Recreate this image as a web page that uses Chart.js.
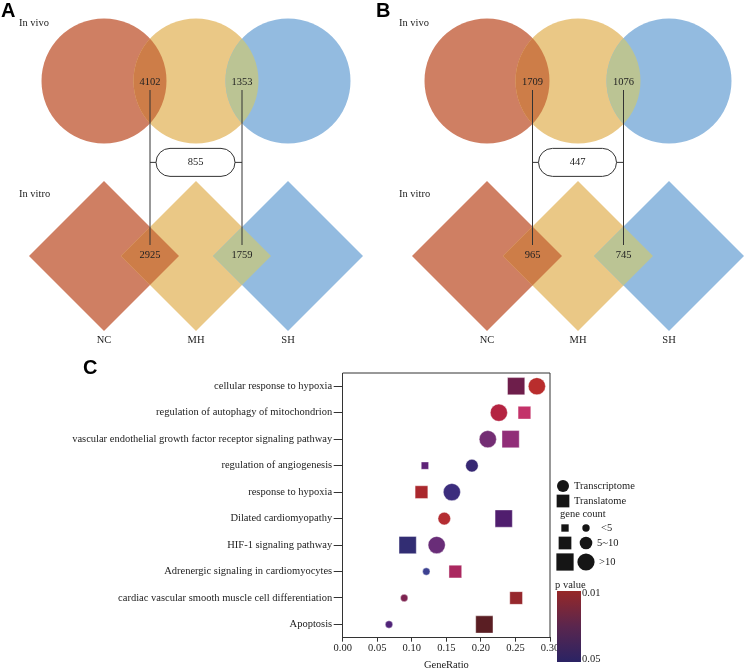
<!DOCTYPE html>
<html>
<head>
<meta charset="utf-8">
<title>Venn diagrams and enrichment dot plot</title>
<script src="https://cdn.jsdelivr.net/npm/chart.js@4.4.1/dist/chart.umd.min.js"></script>
<style>
  body { margin: 0; background: #fff; }
  .figure { position: relative; width: 744px; height: 670px; }
  canvas { position: absolute; }
  #vennA { left: 0; top: 0; }
  #vennB { left: 372px; top: 0; }
  #dotChart { left: 0; top: 350px; }
</style>
</head>
<body>
<div class="figure">
  <canvas id="vennA" width="372" height="352"></canvas>
  <canvas id="vennB" width="372" height="352"></canvas>
  <canvas id="dotChart" width="744" height="320"></canvas>
</div>
<script>
// Venn data (A and B)
const setNames = ['NC', 'MH', 'SH'];
const vivoA = [4102, 1353];
const vitroA = [2925, 1759];
const sharedA = 855;
const vivoB = [1709, 1076];
const vitroB = [965, 745];
const sharedB = 447;

// Enrichment dot plot (C)
const terms = [
    'cellular response to hypoxia',
    'regulation of autophagy of mitochondrion',
    'vascular endothelial growth factor receptor signaling pathway',
    'regulation of angiogenesis',
    'response to hypoxia',
    'Dilated cardiomyopathy',
    'HIF-1 signaling pathway',
    'Adrenergic signaling in cardiomyocytes',
    'cardiac vascular smooth muscle cell differentiation',
    'Apoptosis'
];
const transcriptomeRatio = [0.281, 0.226, 0.210, 0.187, 0.158, 0.147, 0.136, 0.121, 0.089, 0.067];
const transcriptomeCount = [12, 12, 12, 7, 12, 7, 12, 3, 3, 3];
const translatomeRatio = [0.251, 0.263, 0.243, 0.119, 0.114, 0.233, 0.094, 0.163, 0.251, 0.205];
const translatomeCount = [12, 7, 12, 3, 7, 12, 12, 7, 7, 12];
const xTicks = [0, 0.05, 0.10, 0.15, 0.20, 0.25, 0.30];
const pRange = ['0.01', '0.05'];

// styles
const serif = '"Liberation Serif", "Times New Roman", serif';
const sans = '"Liberation Sans", Arial, sans-serif';
const axisColor = '#333';
const setColors = ['#cf7f63', '#eac886', '#93bbe0'];
const overlapColors = ['#cd7d48', '#bbc494'];
const transcriptomeColors = ['#b92d2d', '#b42341', '#732d73', '#372873', '#3c2d7d', '#b42d32', '#692d78', '#3c4191', '#7d2350', '#502378'];
const translatomeColors = ['#6e1e4b', '#c33269', '#912d78', '#5f2378', '#aa282d', '#501e6e', '#322d73', '#aa285f', '#96282d', '#5a1e23'];

Chart.defaults.font.family = serif;
Chart.defaults.font.size = 10.5;
Chart.defaults.color = '#222';
Chart.defaults.animation = false;
Chart.defaults.events = [];

function shapePath(ctx, el) {
    const r = el.options.radius;
    ctx.beginPath();
    if (el.options.pointStyle === 'circle') {
        ctx.arc(el.x, el.y, r, 0, Math.PI * 2);
    } else {
        ctx.moveTo(el.x, el.y - r);
        ctx.lineTo(el.x + r, el.y);
        ctx.lineTo(el.x, el.y + r);
        ctx.lineTo(el.x - r, el.y);
        ctx.closePath();
    }
}

function vennPlugin(o) {
    return {
        id: 'vennExtras',
        afterDatasetsDraw(chart) {
            const ctx = chart.ctx;
            chart.data.datasets.forEach((ds, d) => {
                const pts = chart.getDatasetMeta(d).data;
                for (let i = 0; i < pts.length - 1; i++) {
                    ctx.save();
                    shapePath(ctx, pts[i]);
                    ctx.clip();
                    shapePath(ctx, pts[i + 1]);
                    ctx.fillStyle = overlapColors[i];
                    ctx.fill();
                    ctx.restore();
                }
            });
        },
        afterDraw(chart) {
            const ctx = chart.ctx;
            const xs = chart.scales.x, ys = chart.scales.y;
            const topY = ys.getPixelForValue(1);
            const botY = ys.getPixelForValue(0);
            const midY = ys.getPixelForValue(0.535);
            const px = [xs.getPixelForValue(0.5), xs.getPixelForValue(1.5)];
            ctx.save();
            ctx.strokeStyle = axisColor;
            ctx.lineWidth = 1;
            ctx.fillStyle = '#222';
            ctx.font = '10.5px ' + serif;
            ctx.textAlign = 'center';
            ctx.textBaseline = 'middle';
            px.forEach((x, i) => {
                ctx.fillText(o.vivo[i], x, topY + 1);
                ctx.fillText(o.vitro[i], x, botY - 1);
                ctx.beginPath();
                ctx.moveTo(x, topY + 9);
                ctx.lineTo(x, botY - 11);
                ctx.stroke();
            });
            // rounded box with the shared count
            const bl = px[0] + 6, br = px[1] - 7, h = 28;
            ctx.beginPath();
            ctx.moveTo(px[0], midY); ctx.lineTo(bl, midY);
            ctx.moveTo(br, midY); ctx.lineTo(px[1], midY);
            ctx.stroke();
            ctx.beginPath();
            ctx.roundRect(bl, midY - h / 2, br - bl, h, h / 2);
            ctx.fillStyle = '#fff';
            ctx.fill();
            ctx.stroke();
            ctx.fillStyle = '#222';
            ctx.fillText(o.shared, (bl + br) / 2, midY);

            ctx.textAlign = 'left';
            ctx.textBaseline = 'alphabetic';
            ctx.fillText('In vivo', o.labelX, 26);
            ctx.fillText('In vitro', o.labelX, 197);
            ctx.font = 'bold 20px ' + sans;
            ctx.fillStyle = '#000';
            ctx.fillText(o.letter, o.letterX, 17);
            ctx.restore();
        }
    };
}

function drawVenn(canvasId, o) {
    const left = o.x0 - o.step;
    const right = 372 - (left + 3.8 * o.step);
    return new Chart(document.getElementById(canvasId), {
        type: 'scatter',
        data: {
            datasets: [
                {
                    label: 'In vivo',
                    data: setNames.map((n, i) => ({ x: i, y: 1 })),
                    pointStyle: 'circle',
                    pointRadius: 62.5,
                    pointHoverRadius: 62.5,
                    pointBackgroundColor: setColors,
                    pointBorderWidth: 0,
                    clip: false
                },
                {
                    label: 'In vitro',
                    data: setNames.map((n, i) => ({ x: i, y: 0 })),
                    pointStyle: 'rectRot',
                    pointRadius: 75,
                    pointHoverRadius: 75,
                    pointBackgroundColor: setColors,
                    pointBorderWidth: 0,
                    clip: false
                }
            ]
        },
        options: {
            responsive: false,
            layout: { autoPadding: false, padding: { top: 0.5, left: left, right: right, bottom: 0 } },
            plugins: { legend: { display: false }, tooltip: { enabled: false } },
            scales: {
                x: {
                    min: -1,
                    max: 2.8,
                    grid: { display: false, drawTicks: false },
                    border: { display: false },
                    afterBuildTicks: s => { s.ticks = setNames.map((n, i) => ({ value: i })); },
                    afterFit: s => { s.height = 17.25; },
                    ticks: { padding: 0, font: { lineHeight: 1 }, callback: v => setNames[v], maxRotation: 0, autoSkip: false }
                },
                y: { display: false, min: -0.45, max: 1.46 }
            }
        },
        plugins: [vennPlugin(o)]
    });
}

drawVenn('vennA', { letter: 'A', letterX: 1, labelX: 19, x0: 104, step: 92, vivo: vivoA, vitro: vitroA, shared: sharedA });
drawVenn('vennB', { letter: 'B', letterX: 4, labelX: 27, x0: 115, step: 91, vivo: vivoB, vitro: vitroB, shared: sharedB });

// gene count -> marker size
const circleRadius = n => n < 5 ? 3.7 : n <= 10 ? 6.3 : 8.6;
const squareRadius = n => n < 5 ? 5.2 : n <= 10 ? 9 : 12.2;

const dotExtras = {
    id: 'dotExtras',
    afterDraw(chart) {
        const { ctx, chartArea: a } = chart;
        const drawPoint = Chart.helpers.drawPoint;
        ctx.save();
        ctx.strokeStyle = axisColor;
        ctx.lineWidth = 1;
        ctx.beginPath();
        ctx.moveTo(a.left, a.top);
        ctx.lineTo(a.right, a.top);
        ctx.lineTo(a.right, a.bottom);
        ctx.stroke();

        ctx.font = 'bold 20px ' + sans;
        ctx.fillStyle = '#000';
        ctx.fillText('C', 83, 24);

        // legend
        const lx = a.right + 13;
        ctx.fillStyle = '#151515';
        drawPoint(ctx, { pointStyle: 'circle', radius: 6, borderWidth: 0 }, lx, 136);
        drawPoint(ctx, { pointStyle: 'rect', radius: 9, borderWidth: 0 }, lx, 151);
        const rows = [[3, 178, '<5', 601], [7, 193, '5~10', 597], [12, 212, '>10', 599]];
        rows.forEach(([n, y]) => {
            drawPoint(ctx, { pointStyle: 'rect', radius: squareRadius(n), borderWidth: 0 }, lx + 2, y);
            drawPoint(ctx, { pointStyle: 'circle', radius: circleRadius(n), borderWidth: 0 }, lx + 23, y);
        });
        ctx.fillStyle = '#222';
        ctx.font = '10.5px ' + serif;
        ctx.textBaseline = 'middle';
        ctx.fillText('Transcriptome', lx + 11, 136);
        ctx.fillText('Translatome', lx + 11, 151);
        ctx.fillText('gene count', lx - 3, 164);
        rows.forEach(([n, y, txt, tx]) => ctx.fillText(txt, tx, y));
        ctx.fillText('p value', lx - 8, 235);

        const grad = ctx.createLinearGradient(0, 241, 0, 312);
        grad.addColorStop(0, 'rgb(150,40,40)');
        grad.addColorStop(0.5, 'rgb(90,38,78)');
        grad.addColorStop(1, 'rgb(42,35,100)');
        ctx.fillStyle = grad;
        ctx.fillRect(lx - 6, 241, 24, 71);
        ctx.fillStyle = '#222';
        ctx.fillText(pRange[0], lx + 19, 243);
        ctx.fillText(pRange[1], lx + 19, 309);
        ctx.restore();
    }
};

const ctx3 = document.getElementById('dotChart');
const dotChart = new Chart(ctx3, {
    type: 'scatter',
    data: {
        datasets: [
            {
                label: 'Transcriptome',
                data: terms.map((t, i) => ({ x: transcriptomeRatio[i], y: t })),
                pointStyle: 'circle',
                pointRadius: c => circleRadius(transcriptomeCount[c.dataIndex]),
                pointBackgroundColor: transcriptomeColors,
                pointBorderColor: 'rgba(255,255,255,0.5)',
                pointBorderWidth: 0.8
            },
            {
                label: 'Translatome',
                data: terms.map((t, i) => ({ x: translatomeRatio[i], y: t })),
                pointStyle: 'rect',
                pointRadius: c => squareRadius(translatomeCount[c.dataIndex]),
                pointBackgroundColor: translatomeColors,
                pointBorderColor: 'rgba(255,255,255,0.5)',
                pointBorderWidth: 0.8
            }
        ]
    },
    options: {
        responsive: false,
        layout: { autoPadding: false, padding: { top: 23, right: 194, left: 0, bottom: 0 } },
        plugins: { legend: { display: false }, tooltip: { enabled: false } },
        scales: {
            x: {
                type: 'linear',
                min: 0,
                max: 0.3,
                afterBuildTicks: s => { s.ticks = xTicks.map(v => ({ value: v })); },
                afterFit: s => { s.height = 32.3; },
                ticks: { callback: v => v.toFixed(2), padding: 0, maxRotation: 0, autoSkip: false },
                grid: { drawOnChartArea: false, tickLength: 4, color: axisColor },
                border: { color: axisColor },
                title: { display: true, text: 'GeneRatio', padding: 0, font: { lineHeight: 1 } }
            },
            y: {
                type: 'category',
                labels: terms,
                offset: true,
                afterFit: s => { s.width = 342.7; },
                ticks: { padding: 1.5, autoSkip: false },
                grid: { drawOnChartArea: false, tickLength: 9, color: axisColor },
                border: { color: axisColor }
            }
        }
    },
    plugins: [dotExtras]
});
</script>
</body>
</html>
